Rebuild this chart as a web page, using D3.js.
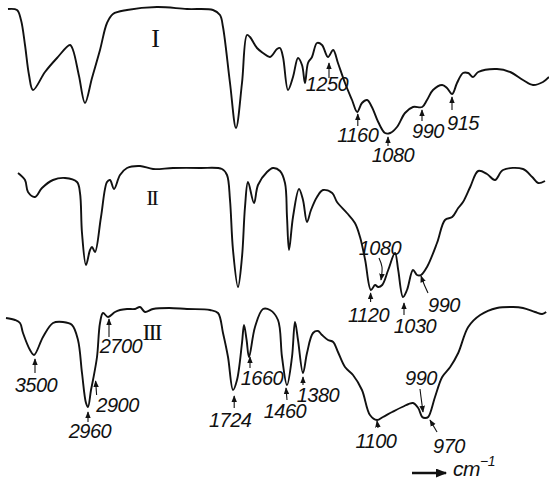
<!DOCTYPE html>
<html>
<head>
<meta charset="utf-8">
<script src="https://cdn.jsdelivr.net/npm/d3@7"></script>
<style>
  html, body { margin: 0; padding: 0; background: #fff; }
  svg { display: block; }
  .spectrum { fill: none; stroke: #111; stroke-width: 1.9; stroke-linejoin: round; }
  .peak-label { font-family: "Liberation Sans", Arial, sans-serif; font-style: italic; font-size: 20px; fill: #111; letter-spacing: -0.5px; }
  .roman { font-family: "Liberation Serif", "DejaVu Serif", serif; fill: #111; }
  .pointer { stroke: #111; stroke-width: 1.1; fill: none; }
</style>
</head>
<body>
<svg id="chart" width="549" height="482"></svg>
<script>
// spectrum I: wavenumber (cm-1) and transmittance (%)
const wnI = [3770, 3680, 3640, 3600, 3560, 3520, 3400, 3280, 3150, 3120, 3060, 3000, 2921, 2817, 2726, 2660, 2520, 2220,
  1960, 1830, 1795, 1780, 1745, 1715, 1685, 1660, 1645, 1610, 1580, 1545, 1510, 1495, 1480, 1455, 1430, 1405,
  1385, 1370, 1355, 1335, 1310, 1285, 1255, 1237, 1222, 1200, 1178, 1162, 1147, 1131, 1116, 1097, 1080, 1067,
  1050, 1030, 1010, 987, 975, 960, 937, 925, 912, 900, 885, 872, 860, 847, 800, 767, 735, 710, 685, 670];
const tI = [65.5, 65, 60, 47.5, 32.5, 25, 34, 41, 47.5, 45, 32, 18.5, 31, 45, 58.5, 63, 65, 66.5,
  65.5, 65, 62.5, 56.5, 28.5, 6, 28.5, 52.5, 51.5, 46, 43.5, 41.5, 45.5, 46, 41.5, 25, 31.5, 41,
  37.5, 28.5, 38.5, 41.5, 48.5, 47.5, 41.5, 45, 38.5, 28.5, 20, 14, 18.5, 20, 16.5, 9, 3.5, 3.5,
  6.5, 13.5, 16.5, 16.5, 20, 25, 27.5, 26, 23, 28.5, 33.5, 33.5, 31.5, 34, 35.5, 34, 30, 27.5, 29, 31.5];

// spectrum II
const wnII = [3670, 3600, 3570, 3500, 3430, 3320, 3200, 3080, 3050, 3030, 2990, 2947, 2921, 2882, 2804, 2726, 2690, 2650,
  2590, 2520, 2390, 2260, 2060, 1895, 1785, 1760, 1745, 1730, 1705, 1685, 1670, 1655, 1625, 1605, 1560, 1530,
  1495, 1470, 1460, 1450, 1430, 1400, 1380, 1360, 1340, 1310, 1280, 1240, 1225, 1194, 1169, 1153, 1137, 1119,
  1106, 1097, 1087, 1072, 1055, 1047, 1035, 1025, 1010, 1000, 990, 975, 950, 930, 912, 897, 885, 867,
  847, 825, 805, 785, 735, 712, 697, 680];
const tII = [63.5, 60, 54, 51.5, 56, 60, 61, 59, 53.5, 33.5, 17.5, 25, 26.5, 24, 41.5, 59, 60, 55.5,
  62.5, 66, 67, 65.5, 66, 66, 65.5, 62.5, 50, 25, 6.5, 21.5, 46.5, 59, 48.5, 57.5, 64, 66,
  64.5, 58.5, 41.5, 25, 41.5, 55.5, 50, 39, 45, 51.5, 55, 53.5, 49, 43.5, 38.5, 31.5, 20, 5,
  7.5, 6.5, 7.5, 15, 23.5, 15, 1.5, 5, 15, 12.5, 12.5, 16.5, 28.5, 40, 41.5, 46, 49, 56.5,
  64.5, 63, 60, 65, 65.5, 61.5, 58.5, 59.5];

// spectrum III
const wnIII = [3790, 3700, 3650, 3620, 3550, 3510, 3420, 3320, 3220, 3130, 3070, 3030, 2990, 2970, 2934, 2908, 2856, 2817,
  2778, 2713, 2640, 2590, 2520, 2440, 2390, 2340, 2260, 2100, 1960, 1845, 1805, 1780, 1755, 1730, 1710, 1685,
  1675, 1662, 1650, 1620, 1580, 1545, 1505, 1485, 1460, 1435, 1420, 1405, 1380, 1360, 1330, 1305, 1285, 1255,
  1237, 1222, 1200, 1175, 1147, 1122, 1100, 1085, 1062, 1037, 1010, 997, 987, 980, 972, 955, 937, 917,
  897, 872, 842, 800, 760, 735, 705, 687, 677];
const tIII = [61, 60, 58.5, 53.5, 45, 42.5, 51.5, 58.5, 59, 57.5, 50, 33.5, 18.5, 16.5, 25, 30, 41.5, 58.5,
  63.5, 61.5, 64, 65, 65.5, 65.5, 66.5, 64, 65.5, 66, 65.5, 65, 63.5, 53.5, 41.5, 25, 30, 48.5,
  57.5, 50, 41.5, 56.5, 65.5, 65, 60, 41.5, 27.5, 41.5, 59, 50, 33.5, 43.5, 53.5, 54.5, 52.5, 50,
  49, 44, 36.5, 32.5, 25, 12.5, 10, 11.5, 14, 16.5, 18.5, 16, 11.5, 11, 11.5, 21.5, 31.5, 36.5,
  43.5, 56.5, 62.5, 66, 66.5, 66, 64, 63, 64];

// marked bands
const peaksI = [1250, 1160, 1080, 990, 915];
const peaksII = [1120, 1080, 1030, 990];
const peaksIII = [3500, 2960, 2900, 2700, 1724, 1660, 1460, 1380, 1100, 990, 970];

const spectra = [
  { name: 'I', wn: wnI, t: tI, peaks: peaksI },
  { name: 'II', wn: wnII, t: tII, peaks: peaksII },
  { name: 'III', wn: wnIII, t: tIII, peaks: peaksIII }
];

// layout: base line of each trace, numeral position
const panels = {
  I: { base: 140, nx: 154.5, ny: 47, nsize: 26 },
  II: { base: 300, nx: 151.5, ny: 205, nsize: 22 },
  III: { base: 440, nx: 151.5, ny: 340, nsize: 24 }
};

// pointer path (dx from band position, y) ending at the head, and label centre/baseline
const notes = {
  'I-1250': { path: [[0, 78], [0, 63]], text: [-2, 91] },
  'I-1160': { path: [[0, 126], [0, 114]], text: [0, 142] },
  'I-1080': { path: [[3, 146], [3, 137]], text: [8, 162] },
  'I-990': { path: [[1, 121], [1, 110]], text: [7, 138] },
  'I-915': { path: [[1, 110], [1, 97]], text: [12, 130] },
  'II-1120': { path: [[0, 302], [0, 293]], text: [-2, 322] },
  'II-1080': { path: [[-6, 258], [-3, 267], [-4, 280]], text: [-5, 255] },
  'II-1030': { path: [[-1, 315], [-1, 303]], text: [10, 333] },
  'II-990': { path: [[7, 293], [3, 284], [0, 276]], text: [23, 312] },
  'III-3500': { path: [[0, 373], [0, 359]], text: [1, 392] },
  'III-2960': { path: [[-1, 422], [-1, 412]], text: [1, 438] },
  'III-2900': { path: [[3, 395], [2, 381]], text: [24, 412] },
  'III-2700': { path: [[0, 337], [0, 319]], text: [12, 353] },
  'III-1724': { path: [[0, 408], [0, 396]], text: [-4, 427] },
  'III-1660': { path: [[3, 368], [3, 357]], text: [15, 385] },
  'III-1460': { path: [[0, 400], [-1, 388]], text: [-2, 418] },
  'III-1380': { path: [[0, 385], [0, 377]], text: [15, 402] },
  'III-1100': { path: [[1, 428], [0, 421]], text: [-1, 448] },
  'III-990': { path: [[-1, 389], [0, 397], [2, 412]], text: [0, 385] },
  'III-970': { path: [[8, 432], [1, 420]], text: [20, 453] }
};

const svg = d3.select('#chart');
const defs = svg.append('defs');

function addHead(id, w, h) {
  defs.append('marker')
    .attr('id', id)
    .attr('viewBox', '0 -4 10 8')
    .attr('refX', 9)
    .attr('refY', 0)
    .attr('orient', 'auto')
    .attr('markerUnits', 'userSpaceOnUse')
    .attr('markerWidth', w)
    .attr('markerHeight', h)
    .append('path')
    .attr('d', 'M0,-4L10,0L0,4Z')
    .attr('fill', '#111');
}
addHead('head', 7, 6);
addHead('bighead', 12, 9);

// wavenumber axis of the old prism chart is not linear; calibrate with the marked bands
const x = d3.scaleLinear()
  .domain([3800, 3500, 2960, 2700, 2000, 1250, 1100, 670])
  .range([5, 35, 89, 109, 179, 329, 377, 549]);

spectra.forEach(s => {
  const p = panels[s.name];
  const y = d3.scaleLinear().domain([0, 70]).range([p.base, p.base - 140]);
  const pts = s.wn.map((w, i) => [w, s.t[i]]);

  const line = d3.line()
    .x(d => x(d[0]))
    .y(d => y(d[1]))
    .curve(d3.curveCatmullRom.alpha(0.5));

  svg.append('path')
    .datum(pts)
    .attr('class', 'spectrum')
    .attr('d', line);

  svg.append('text')
    .attr('class', 'roman')
    .attr('x', p.nx)
    .attr('y', p.ny)
    .attr('text-anchor', 'middle')
    .attr('font-size', p.nsize)
    .attr('letter-spacing', -2)
    .text(s.name);

  s.peaks.forEach(w => {
    const n = notes[s.name + '-' + w];
    const bx = x(w);
    svg.append('path')
      .attr('class', 'pointer')
      .attr('marker-end', 'url(#head)')
      .attr('d', d3.line().curve(d3.curveCatmullRom)(n.path.map(q => [bx + q[0], q[1]])));
    svg.append('text')
      .attr('class', 'peak-label')
      .attr('x', bx + n.text[0])
      .attr('y', n.text[1])
      .attr('text-anchor', 'middle')
      .text(w);
  });
});

// direction of the wavenumber axis
svg.append('line')
  .attr('class', 'pointer')
  .attr('x1', 412).attr('y1', 473)
  .attr('x2', 446).attr('y2', 473)
  .style('stroke-width', '2.4px')
  .attr('marker-end', 'url(#bighead)');

const unit = svg.append('text')
  .attr('class', 'peak-label')
  .style('font-size', '21px')
  .attr('x', 453)
  .attr('y', 476);
unit.append('tspan').text('cm');
unit.append('tspan').attr('dy', -10).style('font-size', '14px').text('−1');
</script>
</body>
</html>
